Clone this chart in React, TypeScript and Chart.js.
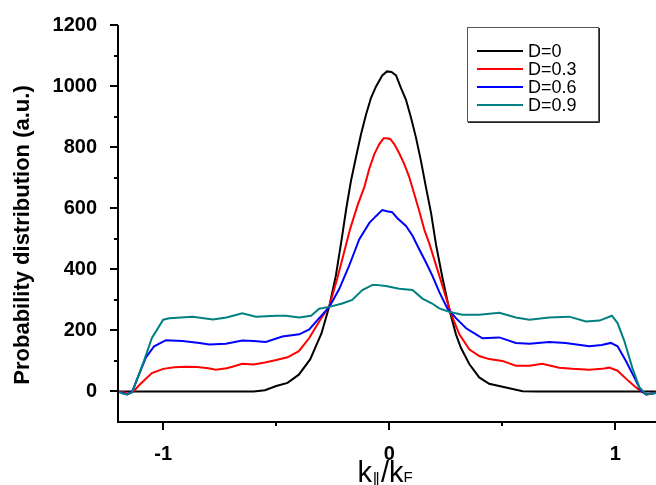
import React, { useEffect, useRef } from 'react';
import { Chart, registerables } from 'chart.js';

Chart.register(...registerables);

const seriesLabels = ['D=0', 'D=0.3', 'D=0.6', 'D=0.9'];
const seriesColors = ['#000000', '#ff0000', '#0000ff', '#008080'];

const d0X = [-1.2, -0.8, -0.6, -0.55, -0.5, -0.45, -0.4, -0.35, -0.3, -0.265, -0.236, -0.208, -0.19, -0.169, -0.147, -0.125, -0.103, -0.081, -0.059, -0.031, -0.01, 0.01, 0.03, 0.052, 0.074, 0.096, 0.118, 0.14, 0.162, 0.185, 0.207, 0.236, 0.265, 0.295, 0.317, 0.354, 0.398, 0.442, 0.516, 0.59, 0.65, 1.18];
const d0Y = [0, 0, 0, 4, 18, 28, 55, 105, 190, 280, 380, 510, 600, 691, 768, 842, 906, 961, 998, 1035, 1048, 1046, 1035, 993, 955, 897, 832, 756, 670, 584, 480, 370, 270, 187, 143, 90, 46, 25, 13, 1, 0, 0];

const d3X = [-1.2, -1.17, -1.155, -1.135, -1.1, -1.05, -1.0, -0.95, -0.9, -0.85, -0.8, -0.767, -0.72, -0.694, -0.65, -0.6, -0.55, -0.5, -0.45, -0.4, -0.354, -0.31, -0.265, -0.23, -0.2, -0.174, -0.14, -0.11, -0.088, -0.066, -0.044, -0.025, -0.01, 0.005, 0.022, 0.044, 0.066, 0.088, 0.11, 0.133, 0.155, 0.177, 0.2, 0.221, 0.25, 0.273, 0.31, 0.354, 0.398, 0.442, 0.5, 0.56, 0.62, 0.677, 0.752, 0.81, 0.885, 0.94, 0.973, 1.01, 1.047, 1.09, 1.12, 1.14, 1.18];
const d3Y = [0, -3, -8, -2, 25, 60, 74, 79, 81, 80, 76, 71, 76, 81, 91, 88, 95, 103, 112, 132, 175, 229, 280, 370, 455, 530, 610, 670, 730, 777, 810, 829, 829, 826, 810, 780, 745, 703, 648, 590, 530, 485, 430, 380, 310, 255, 187, 138, 116, 106, 100, 84, 84, 91, 78, 74, 71, 74, 78, 68, 42, 14, -2, -10, -3];

const d6X = [-1.2, -1.16, -1.137, -1.11, -1.077, -1.04, -0.988, -0.915, -0.84, -0.796, -0.723, -0.65, -0.6, -0.546, -0.473, -0.398, -0.354, -0.31, -0.265, -0.221, -0.177, -0.155, -0.133, -0.088, -0.059, -0.031, -0.01, 0.013, 0.035, 0.074, 0.103, 0.133, 0.162, 0.19, 0.221, 0.257, 0.295, 0.34, 0.384, 0.412, 0.487, 0.56, 0.62, 0.708, 0.78, 0.885, 0.94, 0.98, 1.01, 1.047, 1.084, 1.113, 1.136, 1.18];
const d6Y = [0, -10, 0, 50, 111, 148, 168, 165, 159, 154, 156, 167, 165, 162, 180, 187, 203, 240, 277, 336, 413, 455, 498, 552, 574, 594, 590, 587, 568, 542, 510, 465, 423, 380, 326, 272, 240, 207, 187, 174, 177, 159, 156, 162, 159, 148, 152, 159, 148, 100, 46, 3, -10, -5];

const d9X = [-1.2, -1.18, -1.16, -1.137, -1.09, -1.05, -1.0, -0.973, -0.87, -0.78, -0.72, -0.65, -0.59, -0.5, -0.457, -0.398, -0.346, -0.31, -0.265, -0.208, -0.164, -0.119, -0.074, -0.059, -0.015, 0.044, 0.103, 0.147, 0.19, 0.221, 0.265, 0.323, 0.398, 0.487, 0.56, 0.62, 0.708, 0.796, 0.87, 0.93, 0.985, 1.01, 1.04, 1.075, 1.106, 1.136, 1.164, 1.18];
const d9Y = [0, -7, -10, -2, 90, 175, 235, 240, 245, 236, 242, 256, 245, 248, 248, 242, 248, 271, 277, 288, 300, 332, 349, 349, 345, 336, 332, 304, 288, 272, 261, 251, 251, 258, 242, 235, 242, 245, 229, 232, 248, 224, 165, 78, 14, -10, -7, -5];

const seriesX = [d0X, d3X, d6X, d9X];
const seriesY = [d0Y, d3Y, d6Y, d9Y];

const xTickValues = [-1, 0, 1];
const xMinorTicks = [-0.5, 0.5];
const yTickValues = [0, 200, 400, 600, 800, 1000, 1200];
const yMinorTicks = [100, 300, 500, 700, 900, 1100];

const yTitle = 'Probability distribution (a.u.)';
const FONT = "'Liberation Sans', Arial, sans-serif";

const axesPlugin = {
  id: 'axesPlugin',
  afterDraw(chart: any) {
    const { ctx, chartArea, scales } = chart;
    const xs = scales.x;
    const ys = scales.y;
    ctx.save();
    ctx.strokeStyle = '#000';
    ctx.lineWidth = 2;
    ctx.beginPath();
    ctx.moveTo(chartArea.left, chartArea.top);
    ctx.lineTo(chartArea.left, chartArea.bottom);
    ctx.lineTo(chartArea.right, chartArea.bottom);
    ctx.stroke();
    const yt = (v: number, len: number) => {
      const p = Math.round(ys.getPixelForValue(v));
      ctx.beginPath();
      ctx.moveTo(chartArea.left, p);
      ctx.lineTo(chartArea.left - len, p);
      ctx.stroke();
    };
    const xt = (v: number, len: number) => {
      const p = Math.round(xs.getPixelForValue(v));
      ctx.beginPath();
      ctx.moveTo(p, chartArea.bottom);
      ctx.lineTo(p, chartArea.bottom + len);
      ctx.stroke();
    };
    yTickValues.forEach((v) => yt(v, 8));
    yMinorTicks.forEach((v) => yt(v, 4));
    xTickValues.forEach((v) => xt(v, 8));
    xMinorTicks.forEach((v) => xt(v, 4));

    // y title
    ctx.fillStyle = '#000';
    ctx.font = `bold 22px ${FONT}`;
    ctx.textAlign = 'center';
    ctx.textBaseline = 'middle';
    ctx.save();
    ctx.translate(23, 235);
    ctx.rotate(-Math.PI / 2);
    ctx.fillText(yTitle, 0, 0);
    ctx.restore();

    // x title k∥/kF
    const segs = [
      { t: 'k', size: 29, dy: 0 },
      { t: '\u2225', size: 17, dy: 3 },
      { t: '/k', size: 29, dy: 0 },
      { t: 'F', size: 15, dy: 0 },
    ];
    ctx.textAlign = 'left';
    ctx.textBaseline = 'alphabetic';
    let total = 0;
    const widths = segs.map((s) => {
      ctx.font = `${s.size}px ${FONT}`;
      const w = ctx.measureText(s.t).width;
      total += w;
      return w;
    });
    let cx = 385 - total / 2;
    segs.forEach((s, i) => {
      ctx.font = `${s.size}px ${FONT}`;
      ctx.fillText(s.t, cx, 482 + s.dy);
      cx += widths[i];
    });

    // legend
    const bx = 467, by = 27, bw = 131, bh = 94;
    ctx.fillStyle = '#fff';
    ctx.fillRect(bx, by, bw, bh);
    ctx.strokeStyle = '#555';
    ctx.lineWidth = 1;
    ctx.strokeRect(bx + 0.5, by + 0.5, bw, bh);
    ctx.strokeStyle = '#222';
    ctx.beginPath();
    ctx.moveTo(bx + bw + 1.5, by + 1);
    ctx.lineTo(bx + bw + 1.5, by + bh + 1.5);
    ctx.lineTo(bx + 1, by + bh + 1.5);
    ctx.stroke();
    ctx.font = `18px ${FONT}`;
    ctx.textBaseline = 'middle';
    chart.data.datasets.forEach((ds: any, i: number) => {
      const ry = 51 + i * 18;
      ctx.strokeStyle = ds.borderColor;
      ctx.lineWidth = 2;
      ctx.beginPath();
      ctx.moveTo(477, ry);
      ctx.lineTo(523, ry);
      ctx.stroke();
      ctx.fillStyle = '#000';
      ctx.fillText(ds.label, 528, ry + 1);
    });
    ctx.restore();
  },
};

export default function App() {
  const ref = useRef<HTMLCanvasElement | null>(null);
  useEffect(() => {
    document.body.style.margin = '0';
    document.body.style.overflow = 'hidden';
    const canvas = ref.current;
    if (!canvas) return;
    const datasets = seriesLabels.map((label, i) => ({
      label,
      data: seriesX[i].map((x, j) => ({ x, y: seriesY[i][j] })),
      borderColor: seriesColors[i],
      backgroundColor: seriesColors[i],
      borderWidth: 2,
      pointRadius: 0,
      showLine: true,
      fill: false,
      tension: 0,
      order: seriesLabels.length - i,
    }));
    const chart = new Chart(canvas, {
      type: 'scatter',
      data: { datasets },
      options: {
        animation: false,
        responsive: false,
        devicePixelRatio: 1,
        layout: { padding: { top: 19, left: 0, right: 0, bottom: 0 } },
        plugins: { legend: { display: false }, tooltip: { enabled: false } },
        scales: {
          x: {
            type: 'linear',
            min: -1.2,
            max: 1.18,
            grid: { display: false },
            border: { display: false },
            afterBuildTicks: (s: any) => {
              s.ticks = xTickValues.map((v) => ({ value: v }));
            },
            afterFit: (s: any) => {
              s.height = 63;
            },
            ticks: {
              autoSkip: false,
              maxRotation: 0,
              padding: 12,
              color: '#000',
              font: { family: FONT, size: 20, weight: 'bold' },
              callback: (v: any) => String(v),
            },
          },
          y: {
            type: 'linear',
            min: -100,
            max: 1200,
            grid: { display: false },
            border: { display: false },
            afterBuildTicks: (s: any) => {
              s.ticks = yTickValues.map((v) => ({ value: v }));
            },
            afterFit: (s: any) => {
              s.width = 118;
            },
            ticks: {
              padding: 13,
              color: '#000',
              font: { family: FONT, size: 20, weight: 'bold' },
              callback: (v: any) => String(v),
            },
          },
        },
      },
      plugins: [axesPlugin],
    } as any);
    return () => chart.destroy();
  }, []);
  return <canvas ref={ref} width={656} height={485} style={{ display: 'block', width: 656, height: 485 }} />;
}
